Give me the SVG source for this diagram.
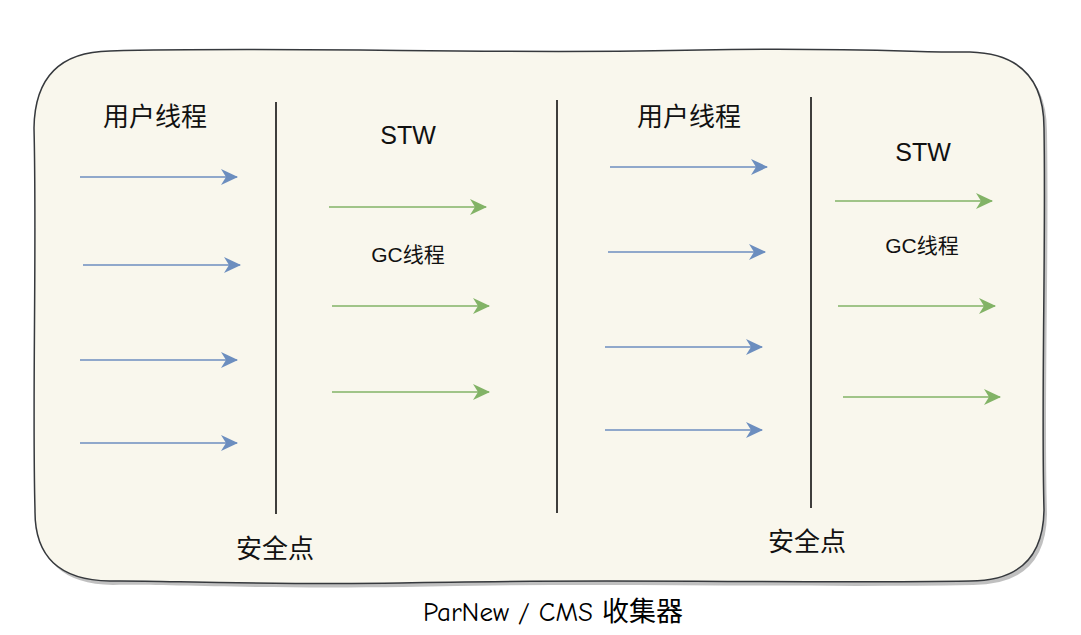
<svg xmlns="http://www.w3.org/2000/svg" width="1081" height="635" viewBox="0 0 1081 635">
<defs>
<style>
.t{font-family:"Liberation Sans","Noto Sans CJK SC",sans-serif;fill:#111;text-anchor:middle}
.blue{stroke:#6c8ebf;stroke-width:1.7;fill:none}
.green{stroke:#82b366;stroke-width:1.7;fill:none}
.sep{stroke:#000;stroke-width:1.5}
</style>
<marker id="ab" markerWidth="17" markerHeight="16" refX="16" refY="8" orient="auto" markerUnits="userSpaceOnUse"><path d="M0,0 L17,8 L0,16 L5,8 Z" fill="#6c8ebf"/></marker>
<marker id="ag" markerWidth="17" markerHeight="16" refX="16" refY="8" orient="auto" markerUnits="userSpaceOnUse"><path d="M0,0 L17,8 L0,16 L5,8 Z" fill="#82b366"/></marker>
</defs>
<rect width="1081" height="635" fill="#fff"/>
<g id="box">
<path transform="translate(3,4)" d="M110,51 C300,46 500,55 700,50 C850,47 930,53 970,52 Q1044,54 1044,128 C1046,250 1041,400 1044,510 Q1043,581 970,581 C800,584 600,578 400,583 C250,585 150,580 110,581 Q34,580 35,510 C32,400 37,250 34,128 Q35,52 110,51 Z" fill="#b5b5b5" opacity="0.85"/>
<path d="M110,51 C300,46 500,55 700,50 C850,47 930,53 970,52 Q1044,54 1044,128 C1046,250 1041,400 1044,510 Q1043,581 970,581 C800,584 600,578 400,583 C250,585 150,580 110,581 Q34,580 35,510 C32,400 37,250 34,128 Q35,52 110,51 Z" fill="#f9f7ed" stroke="#36393d" stroke-width="1.5"/>
</g>
<g id="separators">
<line class="sep" x1="276" y1="102" x2="276" y2="514"/>
<line class="sep" x1="557" y1="100" x2="557" y2="513"/>
<line class="sep" x1="811" y1="97" x2="811" y2="508"/>
</g>
<g id="connectors">
<line class="blue" x1="80" y1="177" x2="237" y2="177" marker-end="url(#ab)"/>
<line class="blue" x1="83" y1="265" x2="240" y2="265" marker-end="url(#ab)"/>
<line class="blue" x1="80" y1="360" x2="237" y2="360" marker-end="url(#ab)"/>
<line class="blue" x1="80" y1="443" x2="237" y2="443" marker-end="url(#ab)"/>
<line class="green" x1="329" y1="207" x2="486" y2="207" marker-end="url(#ag)"/>
<line class="green" x1="332" y1="306" x2="489" y2="306" marker-end="url(#ag)"/>
<line class="green" x1="332" y1="392" x2="489" y2="392" marker-end="url(#ag)"/>
<line class="blue" x1="610" y1="167" x2="767" y2="167" marker-end="url(#ab)"/>
<line class="blue" x1="608" y1="252" x2="765" y2="252" marker-end="url(#ab)"/>
<line class="blue" x1="605" y1="347" x2="762" y2="347" marker-end="url(#ab)"/>
<line class="blue" x1="605" y1="430" x2="762" y2="430" marker-end="url(#ab)"/>
<line class="green" x1="835" y1="201" x2="992" y2="201" marker-end="url(#ag)"/>
<line class="green" x1="838" y1="306" x2="995" y2="306" marker-end="url(#ag)"/>
<line class="green" x1="843" y1="397" x2="1000" y2="397" marker-end="url(#ag)"/>
</g>
<g id="labels">
<text class="t" x="155" y="126" font-size="26">用户线程</text>
<text class="t" x="408" y="144" font-size="25">STW</text>
<text class="t" x="408" y="262" font-size="21">GC线程</text>
<text class="t" x="275" y="558" font-size="26">安全点</text>
<text class="t" x="689" y="126" font-size="26">用户线程</text>
<text class="t" x="923" y="161" font-size="25">STW</text>
<text class="t" x="922" y="253" font-size="21">GC线程</text>
<text class="t" x="807" y="551" font-size="26">安全点</text>
</g>
<text id="caption" x="553" y="621" font-size="27" text-anchor="middle" font-family="'Comic Neue','Comic Sans MS','Noto Sans CJK SC',sans-serif" fill="#000">ParNew / CMS 收集器</text>
</svg>
